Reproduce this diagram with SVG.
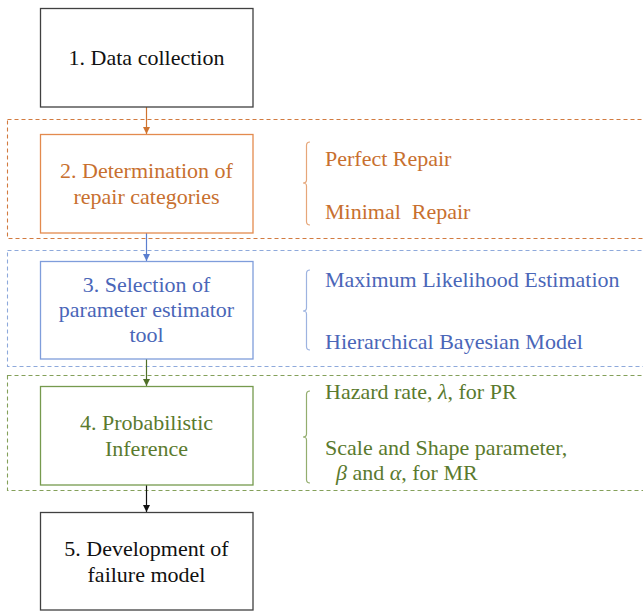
<svg xmlns="http://www.w3.org/2000/svg" width="643" height="611" viewBox="0 0 643 611" font-family="Liberation Serif, DejaVu Serif, serif" font-size="22">
<style>
text{font-family:"Liberation Serif","DejaVu Serif",serif;font-size:22px}
.c{text-anchor:middle}
.or{fill:#C8702F}.bl{fill:#4A66B8}.gr{fill:#5A7A2E}.bk{fill:#111}
.box{fill:#fff;stroke-width:1.3}
.dash{fill:none;stroke-width:1.1;stroke-dasharray:4 3}
.br{fill:none;stroke-width:1.2}
.m{font-style:italic}
</style>
<defs>
<marker id="aO" markerWidth="8" markerHeight="8" refX="7" refY="4" orient="auto" markerUnits="userSpaceOnUse"><path d="M0,0.5 L7,4 L0,7.5 Z" fill="#D0742F"/></marker>
<marker id="aB" markerWidth="8" markerHeight="8" refX="7" refY="4" orient="auto" markerUnits="userSpaceOnUse"><path d="M0,0.5 L7,4 L0,7.5 Z" fill="#5B7FCF"/></marker>
<marker id="aG" markerWidth="8" markerHeight="8" refX="7" refY="4" orient="auto" markerUnits="userSpaceOnUse"><path d="M0,0.5 L7,4 L0,7.5 Z" fill="#4F6F28"/></marker>
<marker id="aK" markerWidth="8" markerHeight="8" refX="7" refY="4" orient="auto" markerUnits="userSpaceOnUse"><path d="M0,0.5 L7,4 L0,7.5 Z" fill="#111"/></marker>
</defs>
<rect width="643" height="611" fill="#fff"/>
<g id="groups">
<rect class="dash" x="7.5" y="119.5" width="650" height="119" stroke="#D27B40"/>
<rect class="dash" x="7.5" y="250.5" width="650" height="116" stroke="#8EA9DB"/>
<rect class="dash" x="7.5" y="375.5" width="650" height="115" stroke="#84A05A"/>
</g>
<g id="connectors">
<line x1="146.5" y1="107" x2="146.5" y2="134" stroke="#D0742F" stroke-width="1.2" marker-end="url(#aO)"/>
<line x1="146.5" y1="233" x2="146.5" y2="261" stroke="#5B7FCF" stroke-width="1.2" marker-end="url(#aB)"/>
<line x1="146.5" y1="359" x2="146.5" y2="386" stroke="#4F6F28" stroke-width="1.2" marker-end="url(#aG)"/>
<line x1="146.5" y1="485" x2="146.5" y2="512" stroke="#111" stroke-width="1.2" marker-end="url(#aK)"/>
</g>
<g id="node1">
<rect class="box" x="40.5" y="8.5" width="212.5" height="98.5" stroke="#404040"/>
<text class="c bk" x="146.5" y="65">1. Data collection</text>
</g>
<g id="node2">
<rect class="box" x="40.5" y="134.5" width="212.5" height="98.5" stroke="#E38A4E"/>
<text class="c or" x="146.5" y="178">2. Determination of</text>
<text class="c or" x="146.5" y="204">repair categories</text>
</g>
<g id="node3">
<rect class="box" x="40.5" y="261.5" width="212.5" height="97.5" stroke="#7F9DDB"/>
<text class="c bl" x="146.5" y="292">3. Selection of</text>
<text class="c bl" x="146.5" y="317">parameter estimator</text>
<text class="c bl" x="146.5" y="342">tool</text>
</g>
<g id="node4">
<rect class="box" x="40.5" y="386.5" width="212.5" height="98.5" stroke="#769A4E"/>
<text class="c gr" x="146.5" y="430">4. Probabilistic</text>
<text class="c gr" x="146.5" y="456">Inference</text>
</g>
<g id="node5">
<rect class="box" x="40.5" y="512.5" width="212.5" height="97.5" stroke="#404040"/>
<text class="c bk" x="146.5" y="556">5. Development of</text>
<text class="c bk" x="146.5" y="582">failure model</text>
</g>
<g id="repair-categories">
<path class="br" stroke="#E6A679" d="M310,142 Q306.5,142 306.5,145.5 L306.5,180 Q306.5,183 303,183 Q306.5,183 306.5,186 L306.5,221.5 Q306.5,225 310,225"/>
<text class="or" x="325" y="166">Perfect Repair</text>
<text class="or" x="325" y="219" xml:space="preserve">Minimal  Repair</text>
</g>
<g id="estimators">
<path class="br" stroke="#9DB3E0" d="M310,270 Q306.5,270 306.5,273.5 L306.5,308 Q306.5,311 303,311 Q306.5,311 306.5,314 L306.5,346.5 Q306.5,350 310,350"/>
<text class="bl" x="325" y="287">Maximum Likelihood Estimation</text>
<text class="bl" x="325" y="349">Hierarchical Bayesian Model</text>
</g>
<g id="inference">
<path class="br" stroke="#93AD6E" d="M310,391 Q306.5,391 306.5,394.5 L306.5,434 Q306.5,437 303,437 Q306.5,437 306.5,440 L306.5,479.5 Q306.5,483 310,483"/>
<text class="gr" x="325" y="399">Hazard rate, <tspan class="m">λ</tspan>, for PR</text>
<text class="gr" x="325" y="455">Scale and Shape parameter,</text>
<text class="gr" x="336" y="480"><tspan class="m">β</tspan> and <tspan class="m">α</tspan>, for MR</text>
</g>
</svg>
